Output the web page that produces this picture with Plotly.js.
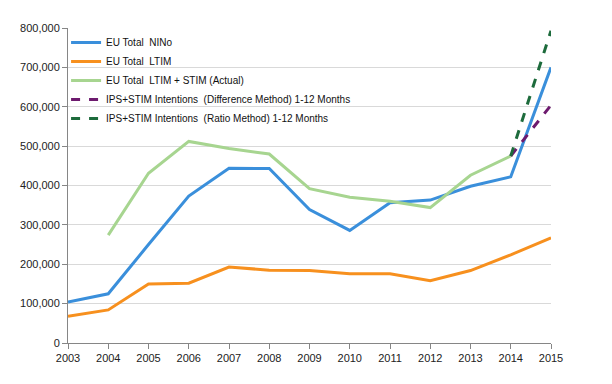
<!DOCTYPE html>
<html>
<head>
<meta charset="utf-8">
<script src="https://cdn.plot.ly/plotly-3.0.1.min.js"></script>
<style>html,body{margin:0;padding:0;background:#fff;}#chart{width:612px;height:384px;}</style>
</head>
<body>
<div id="chart"></div>
<script>
const years = [2003,2004,2005,2006,2007,2008,2009,2010,2011,2012,2013,2014,2015];
const ninoTotal = [104000,125000,250000,373000,444000,443000,339000,286000,356000,363000,398000,422000,700000];
const ltimTotal = [68000,84000,150000,152000,193000,185000,184000,176000,176000,158000,184000,224000,267000];
const ltimStimYears = [2004,2005,2006,2007,2008,2009,2010,2011,2012,2013,2014];
const ltimStim = [274000,431000,512000,494000,480000,392000,370000,360000,344000,426000,475000];
const intentYears = [2014,2015];
const diffMethod = [475000,604000];
const ratioMethod = [475000,793000];
const names = ["EU Total  NINo","EU Total  LTIM","EU Total  LTIM + STIM (Actual)","IPS+STIM Intentions  (Difference Method) 1-12 Months","IPS+STIM Intentions  (Ratio Method) 1-12 Months"];
const yTicks = [0,100000,200000,300000,400000,500000,600000,700000,800000];
const yTickText = yTicks.map(v => v.toLocaleString('en-US'));

const traces = [
  {x: years, y: ninoTotal, name: names[0], mode: 'lines', line: {color: '#3a8fdb', width: 3}},
  {x: years, y: ltimTotal, name: names[1], mode: 'lines', line: {color: '#f7901e', width: 3}},
  {x: ltimStimYears, y: ltimStim, name: names[2], mode: 'lines', line: {color: '#a7d590', width: 3}},
  {x: intentYears, y: diffMethod, name: names[3], mode: 'lines', line: {color: '#6d1a6e', width: 3, dash: 'dash'}},
  {x: intentYears, y: ratioMethod, name: names[4], mode: 'lines', line: {color: '#1d6b3c', width: 3, dash: 'dash'}}
];

const layout = {
  width: 612, height: 384,
  margin: {l: 68, r: 61, t: 28, b: 41},
  paper_bgcolor: '#fff', plot_bgcolor: '#fff',
  font: {family: 'Liberation Sans, Arial, sans-serif', size: 11, color: '#222'},
  showlegend: true,
  legend: {x: -0.004, y: 1.0, xanchor: 'left', yanchor: 'top', bgcolor: 'rgba(0,0,0,0)',
           font: {size: 10, color: '#111'}, itemwidth: 30, tracegroupgap: 0},
  xaxis: {range: [2003, 2015], tickmode: 'array', tickvals: years, ticktext: years.map(String),
          showgrid: false, zeroline: false, showline: true, linecolor: '#868686', linewidth: 1,
          ticks: 'outside', ticklen: 5, tickcolor: '#868686', tickfont: {size: 11}},
  yaxis: {range: [0, 800000], tickmode: 'array', tickvals: yTicks, ticktext: yTickText,
          showgrid: true, gridcolor: '#d9d9d9', gridwidth: 1, zeroline: false,
          showline: true, linecolor: '#868686', linewidth: 1,
          ticks: 'outside', ticklen: 5, tickcolor: '#868686', tickfont: {size: 11}}
};

Plotly.newPlot('chart', traces, layout, {displayModeBar: false, staticPlot: true});
</script>
</body>
</html>
